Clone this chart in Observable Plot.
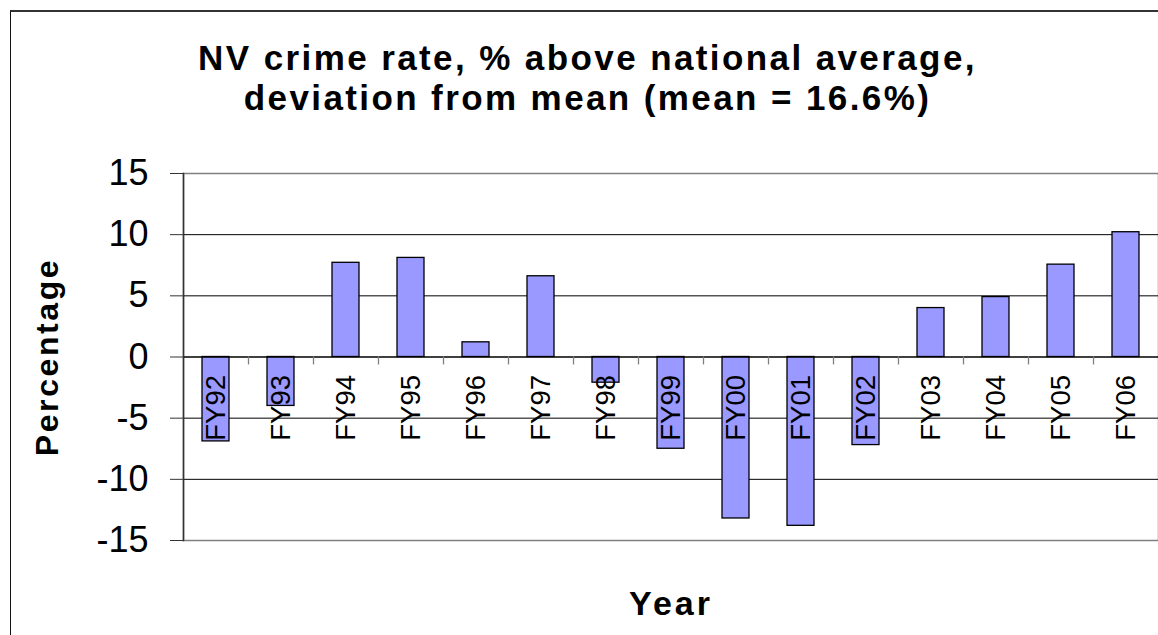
<!DOCTYPE html>
<html>
<head>
<meta charset="utf-8">
<script src="https://cdn.jsdelivr.net/npm/d3@7"></script>
<script src="https://cdn.jsdelivr.net/npm/@observablehq/plot@0.6"></script>
<style>
  html, body { margin: 0; padding: 0; background: #fff; }
  #wrap { position: relative; width: 1158px; height: 635px; overflow: hidden; font-family: "Liberation Sans", Arial, sans-serif; }
  #border { position: absolute; left: 10px; top: 10px; width: 1200px; height: 700px; border-left: 1.5px solid #111; border-top: 2px solid #333; box-sizing: border-box; pointer-events: none; }
  #title { box-sizing: border-box; height: 130px; padding-top: 38px; padding-left: 17px; text-align: center; font-weight: bold; font-size: 35px; line-height: 40px; letter-spacing: 2.4px; color: #000; }
  svg { display: block; }
</style>
</head>
<body>
<div id="wrap">
  <div id="border"></div>
  <div id="title">NV crime rate, % above national average,<br>deviation from mean (mean = 16.6%)</div>
  <div id="chart"></div>
</div>
<script>
const categories = ["FY92","FY93","FY94","FY95","FY96","FY97","FY98","FY99","FY00","FY01","FY02","FY03","FY04","FY05","FY06"];
const values = [-6.9, -4.0, 7.7, 8.1, 1.2, 6.6, -2.1, -7.5, -13.2, -13.8, -7.2, 4.0, 4.9, 7.55, 10.2];
const yTicks = [15, 10, 5, 0, -5, -10, -15];
const gridLines = [10, 5, -5, -10];
const xTitle = "Year";
const yTitle = "Percentage";

const data = categories.map((c, i) => ({year: c, value: values[i]}));

const chart = Plot.plot({
  width: 1158,
  height: 505,
  marginTop: 43,
  marginBottom: 95,
  marginLeft: 183,
  marginRight: 0,
  style: {fontFamily: "'Liberation Sans', Arial, sans-serif", color: "#000", background: "transparent"},
  x: {domain: categories, padding: 0, axis: null},
  y: {domain: [-15, 15]},
  marks: [
    Plot.frame({stroke: "#808080", strokeWidth: 1.5}),
    Plot.ruleY(gridLines, {stroke: "#000", strokeWidth: 1}),
    Plot.barY(data, {x: "year", y: "value", fill: "#9999FF", stroke: "#000", strokeWidth: 1.3, insetLeft: 19, insetRight: 19}),
    Plot.ruleY([0], {stroke: "#000", strokeWidth: 1.3}),
    Plot.ruleX(categories.slice(1), {x: d => d, y1: 0, y2: -0.65, dx: -32.5, stroke: "#808080", strokeWidth: 1.3}),
    Plot.frame({anchor: "left", stroke: "#333", strokeWidth: 1.5}),
    Plot.axisY({ticks: yTicks, tickSize: 13, tickPadding: 22, fontSize: 36, label: null, stroke: "#333",
      tickFormat: d => d < 0 ? "-" + Math.abs(d) : String(d)}),
    Plot.text(categories, {x: d => d, y: 0, text: d => d, rotate: -90, textAnchor: "end", dy: 18, fontSize: 27.5, fill: "#000"}),
    Plot.text([xTitle], {frameAnchor: "bottom", text: d => d, dy: 64, textAnchor: "middle", lineAnchor: "middle", fontSize: 34, fontWeight: "bold", fill: "#000"}),
    Plot.text([yTitle], {frameAnchor: "left", text: d => d, dx: -136, rotate: -90, textAnchor: "middle", lineAnchor: "middle", fontSize: 32, fontWeight: "bold", fill: "#000"})
  ]
});

d3.select(chart).selectAll("text")
  .filter(function() { return this.textContent === xTitle; })
  .attr("letter-spacing", "3px");
d3.select(chart).selectAll("text")
  .filter(function() { return this.textContent === yTitle; })
  .attr("letter-spacing", "2.6px");

document.getElementById("chart").appendChild(chart);
</script>
</body>
</html>
